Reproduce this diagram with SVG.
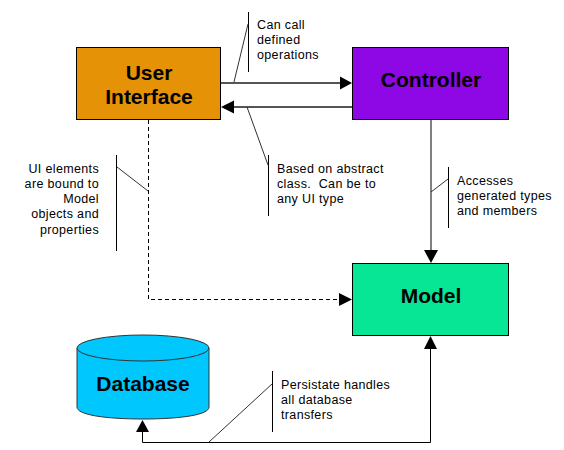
<svg xmlns="http://www.w3.org/2000/svg" width="564" height="450" viewBox="0 0 564 450">
<style>
.box{stroke:#000;stroke-width:1}
.t{font-family:"Liberation Sans",Arial,sans-serif;font-size:21px;font-weight:bold;fill:#000;text-anchor:middle}
.n{font-family:"Liberation Sans",Arial,sans-serif;font-size:12.500px;fill:#000;letter-spacing:.35px;white-space:pre}
.r{text-anchor:end}
.c{fill:none;stroke:#000;stroke-width:1}
.g{fill:none;stroke:#555;stroke-width:2}
.l{fill:none;stroke:#333;stroke-width:1}
</style>
<rect width="564" height="450" fill="#fff"/>
<g id="connectors">
<path class="g" d="M221 83H340"/>
<path class="g" d="M352 107H234"/>
<path d="M431 120V250" fill="none" stroke="#808080" stroke-width="2"/>
<path class="c" stroke-dasharray="4 3" d="M148.500 120V299.500H340"/>
<path class="c" d="M430.500 346V442.500H142.500V432"/>
<polygon points="352,83 340,76.500 340,89.500"/>
<polygon points="221,107 234,100.500 234,113.500"/>
<polygon points="431,263 424,250 438,250"/>
<polygon points="352,299.500 339,293 339,306"/>
<polygon points="430.500,336 424,349 437,349"/>
<polygon points="142.500,420 136,432 149,432"/>
</g>
<g id="user-interface"><rect class="box" x="76.500" y="47.500" width="144" height="72" fill="#e69206"/><text class="t" x="149" y="80">User</text><text class="t" x="149" y="104">Interface</text></g>
<g id="controller"><rect class="box" x="352.500" y="47.500" width="156" height="72" fill="#8d08e4"/><text class="t" x="431" y="87">Controller</text></g>
<g id="model"><rect class="box" x="352.500" y="263.500" width="156" height="72" fill="#07e695"/><text class="t" x="431" y="303">Model</text></g>
<g id="database"><path d="M77 348V407C77 415 106 419 143 419S209 415 209 407V348" fill="#00c8ff" stroke="#333"/><ellipse cx="143" cy="348" rx="66" ry="13" fill="#00c8ff" stroke="#333"/><text class="t" x="143" y="391">Database</text></g>
<g id="note-call"><path class="c" d="M248.500 12V72"/><path class="l" d="M248 24L234 82"/><text class="n" x="257" y="29">Can call</text><text class="n" x="257" y="44">defined</text><text class="n" x="257" y="59">operations</text></g>
<g id="note-abstract"><path class="c" d="M268.500 155V216"/><path class="l" d="M268 165L247 107"/><text class="n" x="277" y="173">Based on abstract</text><text class="n" x="277" y="188">class.  Can be to</text><text class="n" x="277" y="203">any UI type</text></g>
<g id="note-bound"><path class="c" d="M116.500 155V251"/><path class="l" d="M117 167L148 191"/><text class="n r" x="99" y="173">UI elements</text><text class="n r" x="99" y="188">are bound to</text><text class="n r" x="99" y="203">Model</text><text class="n r" x="99" y="218">objects and</text><text class="n r" x="99" y="234">properties</text></g>
<g id="note-access"><path class="c" d="M448.500 167V228"/><path class="l" d="M448 179L431 192"/><text class="n" x="457" y="185">Accesses</text><text class="n" x="457" y="200">generated types</text><text class="n" x="457" y="215">and members</text></g>
<g id="note-persist"><path class="c" d="M272.500 371V432"/><path class="l" d="M272 384L209 442"/><text class="n" x="281" y="389">Persistate handles</text><text class="n" x="281" y="404">all database</text><text class="n" x="281" y="419">transfers</text></g>
</svg>
